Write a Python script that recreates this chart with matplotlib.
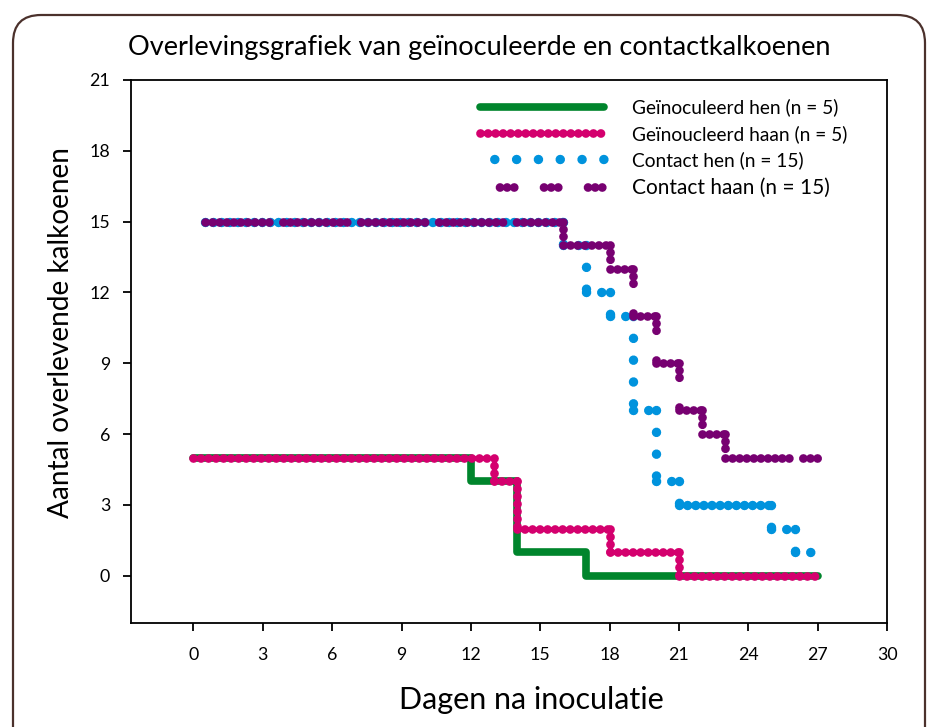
import matplotlib
matplotlib.use("Agg")
import matplotlib.pyplot as plt
from matplotlib.patches import FancyBboxPatch
from matplotlib.lines import Line2D

plt.rcParams["font.family"] = ["Lato", "DejaVu Sans"]

# overlevingsdata (trapfuncties, waarde geldt vanaf tijdstip tot het volgende)
hen_ino_t = [0, 12, 14, 17, 27]
hen_ino_n = [5, 4, 1, 0, 0]

haan_ino_t = [0, 13, 14, 18, 21, 27]
haan_ino_n = [5, 4, 2, 1, 0, 0]

hen_con_t = [0.5, 16, 17, 18, 19, 20, 21, 25, 26, 27]
hen_con_n = [15, 14, 12, 11, 7, 4, 3, 2, 1, 1]

haan_con_t = [0.5, 16, 18, 19, 20, 21, 22, 23, 27]
haan_con_n = [15, 14, 13, 11, 9, 7, 6, 5, 5]

labels = ["Geïnoculeerd hen (n = 5)", "Geïnoucleerd haan (n = 5)",
          "Contact hen (n = 15)", "Contact haan (n = 15)"]

groen = "#00852C"
roze = "#D4006E"
blauw = "#0093DD"
paars = "#770071"

dicht = (0, (0.01, 0.85))
blauw_los = (0, (0.01, 2.3))
paars_groep = (0, (0.01, 0.8, 0.01, 0.8, 0.01, 3.4))
paars_lang = (0, (0.01, 0.8) * 9 + (0.01, 1.6))


def trap(ax, t, n, kleur, lw, stijl_h, stijl_v, stijl_kort=None):
    # elk stuk apart tekenen zodat het stippelpatroon per stuk opnieuw begint
    for i in range(len(t) - 1):
        stijl = stijl_h
        if stijl_kort is not None and t[i + 1] - t[i] < 2:
            stijl = stijl_kort
        ax.plot([t[i], t[i + 1]], [n[i], n[i]], color=kleur, lw=lw,
                linestyle=stijl, dash_capstyle="round")
        if n[i + 1] != n[i]:
            ax.plot([t[i + 1], t[i + 1]], [n[i], n[i + 1]], color=kleur, lw=lw,
                    linestyle=stijl_v, dash_capstyle="round")


fig = plt.figure(figsize=(9.3, 7.27), dpi=100)

# afgeronde kader rond de figuur
frame = FancyBboxPatch((0.13, -0.6), 9.12, 7.72,
                       boxstyle="round,pad=0,rounding_size=0.28",
                       transform=fig.dpi_scale_trans, facecolor="none",
                       edgecolor="#4b312c", linewidth=1.6)
fig.patches.append(frame)

ax = fig.add_axes([0.1409, 0.1431, 0.8129, 0.7469])

ax.step(hen_ino_t, hen_ino_n, where="post", color=groen, lw=5.5,
        solid_capstyle="round", solid_joinstyle="round")
trap(ax, haan_ino_t, haan_ino_n, roze, 6.3, dicht, dicht)
trap(ax, hen_con_t, hen_con_n, blauw, 6.8, dicht, blauw_los,
     (0, (0.01, 1.6)))
trap(ax, haan_con_t, haan_con_n, paars, 6.3, paars_lang, paars_groep)

ax.set_xlim(-2.7, 30)
ax.set_ylim(-2, 21)
ax.set_xticks(range(0, 31, 3))
ax.set_yticks(range(0, 22, 3))
ax.tick_params(length=6, width=1.3, labelsize=12.8)
ax.tick_params(axis="x", pad=11)
ax.tick_params(axis="y", pad=9)
for s in ax.spines.values():
    s.set_linewidth(1.3)

fig.text(479 / 930, 1 - 47 / 727,
         "Overlevingsgrafiek van geïnoculeerde en contactkalkoenen",
         fontsize=19.5, ha="center", va="center")
ax.set_xlabel("Dagen na inoculatie", fontsize=22)
ax.xaxis.set_label_coords(0.53, -0.116)
ax.set_ylabel("Aantal overlevende kalkoenen", fontsize=20.2)
ax.yaxis.set_label_coords(-0.076, 0.535)

handles = [
    Line2D([], [], color=groen, lw=5.5, solid_capstyle="round"),
    Line2D([], [], color=roze, lw=6.3, linestyle=dicht, dash_capstyle="round"),
    Line2D([], [], color=blauw, lw=6.8, linestyle=(0.8, (0.01, 2.3)),
           dash_capstyle="round"),
    Line2D([], [], color=paars, lw=6.3, linestyle=(2.8, paars_groep[1]),
           dash_capstyle="round"),
]
leg = ax.legend(handles, labels, loc="upper left",
                bbox_to_anchor=(0.462, 0.966), frameon=False, fontsize=13.8,
                handlelength=6.45, handletextpad=1.45, labelspacing=0.44,
                borderpad=0, borderaxespad=0)
leg.get_texts()[3].set_fontsize(15)

fig.savefig("out.png", dpi=100)
